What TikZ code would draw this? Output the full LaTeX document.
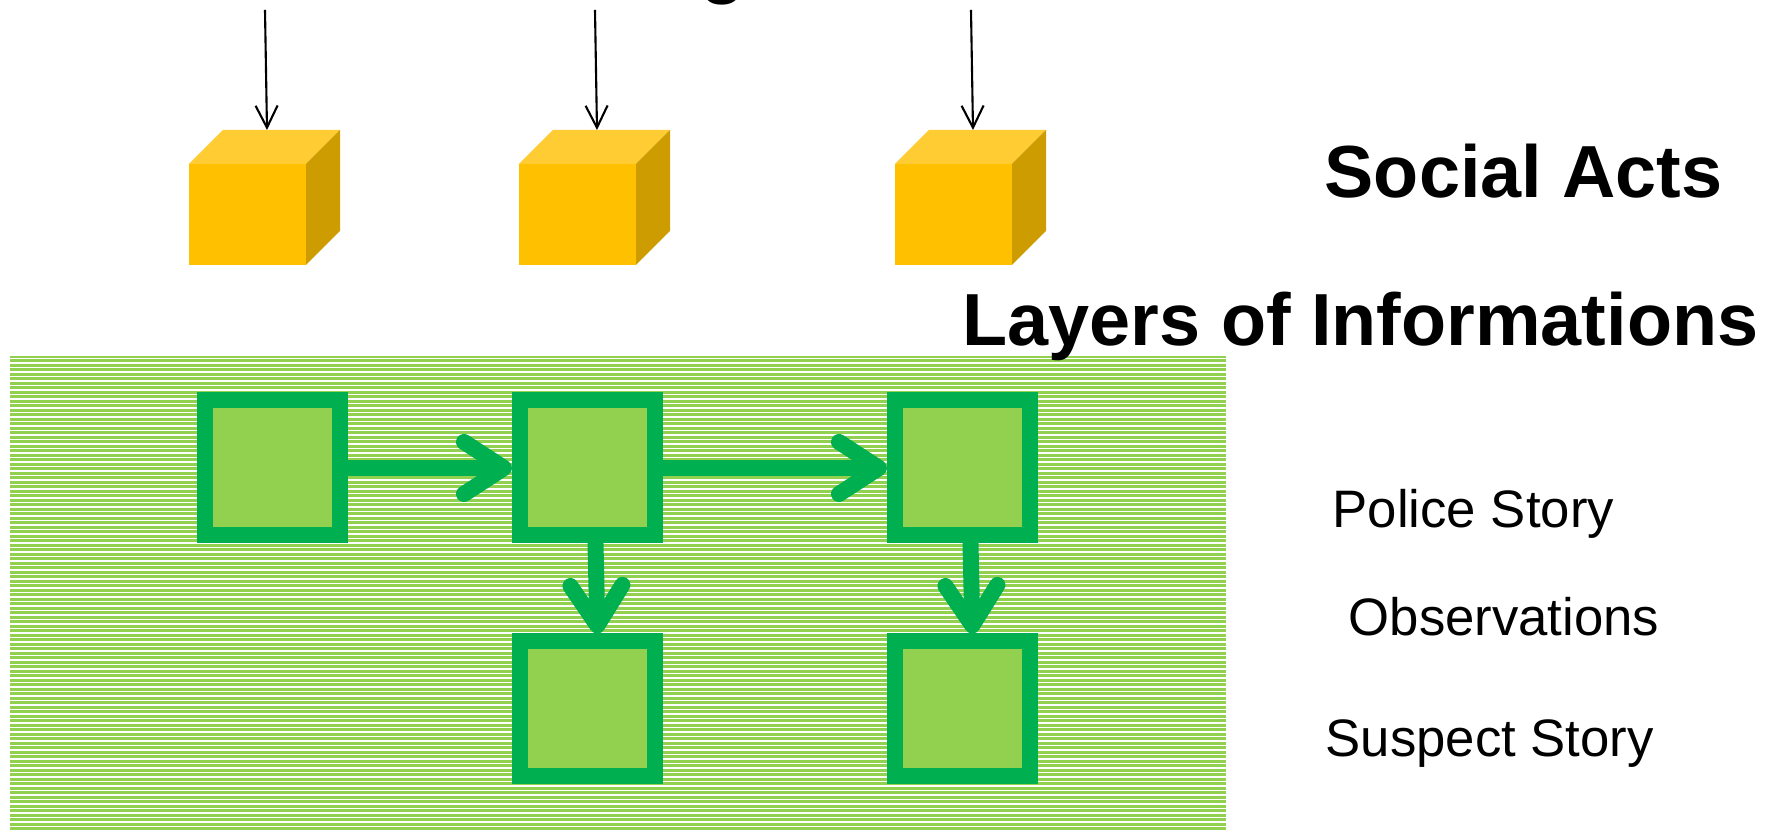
\documentclass[tikz,border=0pt]{standalone}
\usepackage{fontspec}
\setmainfont{Liberation Sans}
\usetikzlibrary{arrows.meta,calc}
\definecolor{actfront}{HTML}{FFC000}
\definecolor{acttop}{HTML}{FFCC33}
\definecolor{actside}{HTML}{CC9C00}
\definecolor{layergreen}{HTML}{92D050}
\definecolor{storygreen}{HTML}{00B050}
\begin{document}
\begin{tikzpicture}[
    act/.style={fill=actfront, minimum width=1.17cm, minimum height=1.01cm, inner sep=0, outer sep=0},
    info/.style={draw=storygreen, line width=0.16cm, fill=layergreen, minimum size=1.35cm, inner sep=0},
    flow/.style={draw=storygreen, line width=0.16cm, line cap=round, -{Straight Barb[length=0.4cm,width=0.52cm,round]}},
    feed/.style={line width=0.6pt, -{Straight Barb[length=0.22cm,width=0.22cm]}},
    titletext/.style={font=\bfseries\fontsize{21}{25}\selectfont, inner sep=0, anchor=base west},
    layertext/.style={font=\fontsize{15}{18}\selectfont, inner sep=0, anchor=base west}]
    \useasboundingbox (0,0) rectangle (17.78,8.32);

    \node[titletext] (topg) at (7.0,8.42) {g};

    % social acts
    \foreach \i/\x in {1/2.475,2/5.775,3/9.535} {
        \node[act] (act\i) at (\x,6.175) {};
        \fill[acttop] (act\i.north west) -- ++(0.34,0.34) -- ++(1.17,0) -- (act\i.north east) -- cycle;
        \fill[actside] (act\i.north east) -- ++(0.34,0.34) -- ++(0,-1.01) -- (act\i.south east) -- cycle;
        \coordinate (src\i) at ($(act\i.north)+(0.175,1.54)$);
        \draw[feed] (src\i) -- ($(act\i.north)+(0.195,0.34)$);
    }

    % layers
    \fill[layergreen] (0.10,0) rectangle (12.26,4.76);
    \foreach \k in {0,...,105} {
        \draw[white, line width=0.35pt] (0.10,{4.735-0.045*\k}) -- (12.26,{4.735-0.045*\k});
    }

    \node[info] (police1) at (2.72,3.64) {};
    \node[info] (police2) at (5.875,3.64) {};
    \node[info] (police3) at (9.625,3.64) {};
    \node[info] (suspect2) at (5.875,1.23) {};
    \node[info] (suspect3) at (9.625,1.23) {};

    \draw[flow] (police1) -- (police2);
    \draw[flow] (police2) -- (police3);
    \draw[flow] ([xshift=0.08cm]police2.south) -- ([xshift=0.1cm]suspect2.north);
    \draw[flow] ([xshift=0.08cm]police3.south) -- ([xshift=0.1cm]suspect3.north);

    \node[titletext] (social) at (13.24,6.34) {Social Acts};
    \node[titletext] (layers) at (9.62,4.86) {Layers of Informations};
    \node[layertext] (police) at (13.32,3.04) {Police Story};
    \node[layertext] (observe) at (13.48,1.96) {Observations};
    \node[layertext] (suspect) at (13.25,0.75) {Suspect Story};
\end{tikzpicture}
\end{document}
